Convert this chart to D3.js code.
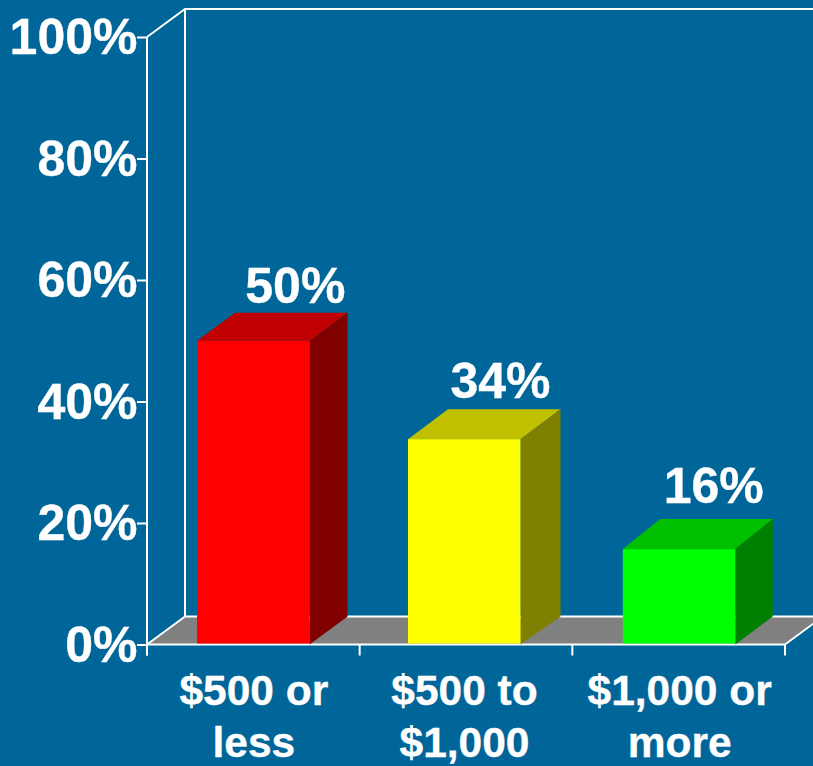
<!DOCTYPE html>
<html>
<head>
<meta charset="utf-8">
<script src="https://cdn.jsdelivr.net/npm/d3@7"></script>
<style>
html,body{margin:0;padding:0;background:#006699;overflow:hidden}
svg{display:block}
text{font-family:"Liberation Sans",Arial,sans-serif;font-weight:bold;fill:#fff;stroke:#fff;stroke-width:0.35px}
</style>
</head>
<body>
<svg id="chart" width="813" height="766"></svg>
<script>
const categories = ["$500 or less", "$500 to $1,000", "$1,000 or more"];
const categoryLines = [["$500 or", "less"], ["$500 to", "$1,000"], ["$1,000 or", "more"]];
const values = [50, 33.8, 15.7];
const valueLabels = ["50%", "34%", "16%"];
const yTicks = [0, 20, 40, 60, 80, 100];

const W = 813, H = 766;
const plotLeft = 147, plotRight = 785, plotBottom = 644.5, plotTop = 37;
const dx = 38, dy = -28;

const svg = d3.select("#chart");
svg.append("rect").attr("width", W).attr("height", H).attr("fill", "#006699");

const x = d3.scaleBand().domain(categories).range([plotLeft, plotRight]).paddingInner(0.471).paddingOuter(0.2355);
const y = d3.scaleLinear().domain([0, 100]).range([plotBottom, plotTop]);

const front = d3.scaleOrdinal().domain(categories).range(["#ff0000", "#ffff00", "#00ff00"]);
const topFace = d3.scaleOrdinal().domain(categories).range(["#c00000", "#c0c000", "#00c000"]);
const sideFace = d3.scaleOrdinal().domain(categories).range(["#800000", "#808000", "#008000"]);

// small per-bar drawing adjustments seen in the reference
const barNudge = d3.scaleOrdinal().domain(categories).range([0, -1.75, 0.4]);
const depthX = d3.scaleOrdinal().domain(categories).range([38, 40, 37.5]);
const depthY = d3.scaleOrdinal().domain(categories).range([-28, -30, -30]);
const labelShift = d3.scaleOrdinal().domain(categories).range([42, 34.5, 35]);
const labelRise = d3.scaleOrdinal().domain(categories).range([38, 41, 46.5]);
const catShift = d3.scaleOrdinal().domain(categories).range([0.5, -1.5, 1]);

const poly = pts => pts.map(p => p.join(",")).join(" ");

// floor
svg.append("polygon")
  .attr("points", poly([[plotLeft, y(0)], [plotLeft + dx, y(0) + dy], [plotRight + dx, y(0) + dy], [plotRight, y(0)]]))
  .attr("fill", "#808080");

// walls
const lineAttr = s => s.attr("stroke", "#fff").attr("stroke-width", 2).attr("fill", "none");
svg.append("path")
  .attr("d", d3.line()([[plotLeft, y(100)], [plotLeft + dx, y(100) + dy], [W + 2, y(100) + dy]]))
  .call(lineAttr);
svg.append("path")
  .attr("d", d3.line()([[plotLeft + dx, y(100) + dy], [plotLeft + dx, y(0) + dy], [plotRight + dx, y(0) + dy], [plotRight, y(0)]]))
  .call(lineAttr);
svg.append("path")
  .attr("d", d3.line()([[plotLeft, y(0)], [plotLeft + dx, y(0) + dy]]))
  .call(lineAttr);

// axes
const yAxis = d3.axisLeft(y).tickValues(yTicks).tickSize(10).tickPadding(0).tickFormat(d => d + "%");
const gy = svg.append("g").attr("transform", `translate(${plotLeft},0)`).call(yAxis);
gy.select(".domain").remove();
gy.selectAll("line").attr("stroke", "#fff").attr("stroke-width", 2);
gy.selectAll("text")
  .attr("font-size", 50)
  .attr("x", -9.5)
  .attr("dy", 16.5)
  .style("font-family", '"Liberation Sans",Arial,sans-serif')
  .attr("fill", "#fff");

svg.append("line").attr("x1", plotLeft).attr("x2", plotLeft).attr("y1", y(100)).attr("y2", y(0) + 11).call(lineAttr);
svg.append("line").attr("x1", plotLeft).attr("x2", plotRight).attr("y1", y(0)).attr("y2", y(0)).call(lineAttr);

// category ticks at band boundaries
const step = x.step();
const boundaries = d3.range(categories.length + 1).map(i => plotLeft + i * step);
svg.append("g").selectAll("line").data(boundaries).join("line")
  .attr("x1", d => d).attr("x2", d => d)
  .attr("y1", y(0)).attr("y2", y(0) + 11)
  .call(lineAttr);

// bars
const bx = c => x(c) + barNudge(c);
const bw = x.bandwidth();
const bars = svg.append("g").selectAll("g").data(categories).join("g");
bars.append("polygon")
  .attr("points", (c, i) => poly([[bx(c), y(values[i])], [bx(c) + depthX(c), y(values[i]) + depthY(c)], [bx(c) + bw + depthX(c), y(values[i]) + depthY(c)], [bx(c) + bw, y(values[i])]]))
  .attr("fill", c => topFace(c));
bars.append("polygon")
  .attr("points", (c, i) => poly([[bx(c) + bw, y(values[i])], [bx(c) + bw + depthX(c), y(values[i]) + depthY(c)], [bx(c) + bw + depthX(c), y(0) + dy], [bx(c) + bw, y(0)]]))
  .attr("fill", c => sideFace(c));
bars.append("rect")
  .attr("x", c => bx(c))
  .attr("y", (c, i) => y(values[i]))
  .attr("width", bw)
  .attr("height", (c, i) => y(0) - y(values[i]) - 1)
  .attr("fill", c => front(c));

// value labels
bars.append("text")
  .attr("x", c => x(c) + bw / 2 + labelShift(c))
  .attr("y", (c, i) => y(values[i]) - labelRise(c))
  .attr("text-anchor", "middle")
  .attr("font-size", 50)
  .text((c, i) => valueLabels[i]);

// category labels
const cat = svg.append("g").selectAll("text").data(categories).join("text")
  .attr("text-anchor", "middle")
  .attr("font-size", 42.5);
cat.selectAll("tspan").data((c, i) => categoryLines[i].map(t => ({ c, t }))).join("tspan")
  .attr("x", d => x(d.c) + bw / 2 + catShift(d.c))
  .attr("y", (d, i) => y(0) + 60.5 + i * 52)
  .text(d => d.t);
</script>
</body>
</html>
